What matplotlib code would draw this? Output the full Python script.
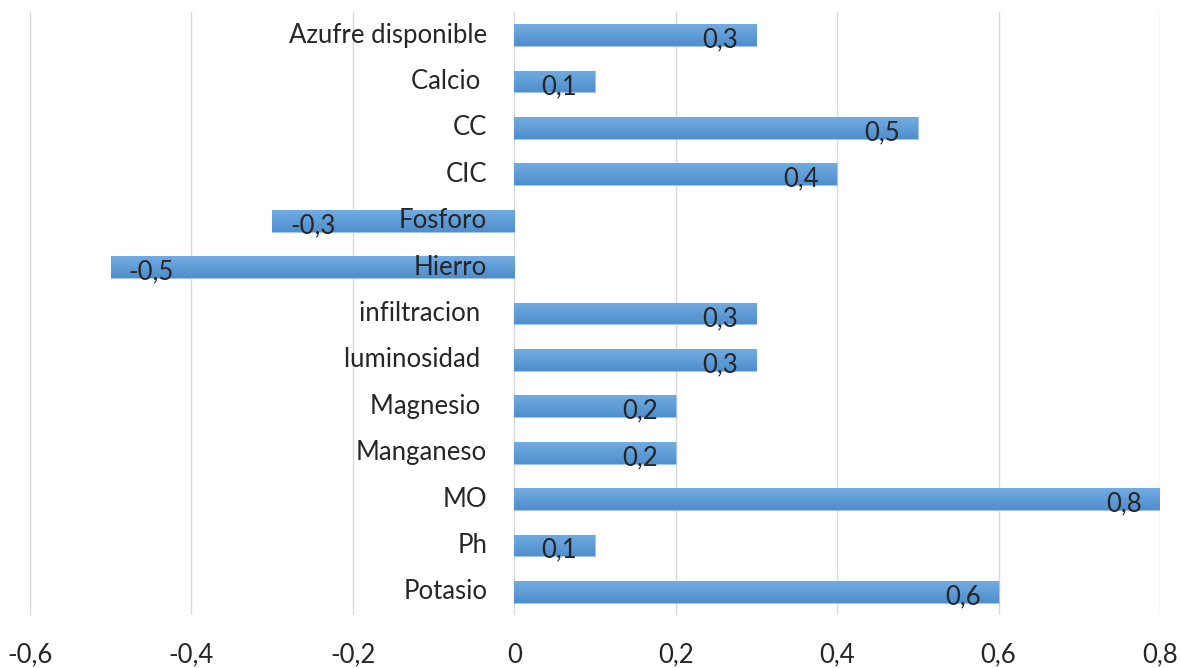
import matplotlib
matplotlib.use('Agg')
from matplotlib import pyplot as plt
from matplotlib.colors import LinearSegmentedColormap
import numpy as np

categories = ['Azufre disponible', 'Calcio ', 'CC', 'CIC', 'Fosforo', 'Hierro',
              'infiltracion ', 'luminosidad ', 'Magnesio ', 'Manganeso', 'MO', 'Ph', 'Potasio']
values = [0.3, 0.1, 0.5, 0.4, -0.3, -0.5, 0.3, 0.3, 0.2, 0.2, 0.8, 0.1, 0.6]
xticks = [-0.6, -0.4, -0.2, 0, 0.2, 0.4, 0.6, 0.8]

plt.rcParams['font.family'] = ['Lato', 'DejaVu Sans']


def comma(v):
    return ('%g' % v).replace('.', ',')


fig = plt.figure(figsize=(11.8, 6.68), dpi=100)
ax = fig.add_axes([30 / 1180, 1 - 615 / 668, 1130 / 1180, 603 / 668])

y = np.arange(len(categories))
bars = ax.barh(y, values, height=0.47, color='#5b9bd5', edgecolor='#a3c7ea', linewidth=0.8, zorder=2)

# light-to-dark gradient like the office chart
cmap = LinearSegmentedColormap.from_list('bar', ['#72abe0', '#4f8fce'])
grad = np.linspace(0, 1, 64).reshape(-1, 1)
for b in bars:
    x0, y0, w, h = b.get_x(), b.get_y(), b.get_width(), b.get_height()
    im = ax.imshow(grad, extent=(x0, x0 + w, y0 + h, y0), origin='upper', aspect='auto',
                   cmap=cmap, zorder=2.1)
    im.set_clip_path(b)

# category labels sit just left of zero
for yi, name in zip(y, categories):
    ax.annotate(name, (0, yi), xytext=(-19.5, 0), textcoords='offset points',
                ha='right', va='center', fontsize=18.5, color='#262626', zorder=3)

# value labels inside the bar end
for yi, v in zip(y, values):
    if v >= 0:
        ax.annotate(comma(v), (v, yi), xytext=(-13, -3.5), textcoords='offset points',
                    ha='right', va='center', fontsize=18.5, color='#262626', zorder=3)
    else:
        ax.annotate(comma(v), (v, yi), xytext=(13, -3.5), textcoords='offset points',
                    ha='left', va='center', fontsize=18.5, color='#262626', zorder=3)

ax.set_xlim(-0.6, 0.8)
ax.set_ylim(len(categories) - 0.5, -0.5)
ax.set_xticks(xticks)
ax.set_xticklabels([comma(t) for t in xticks], fontsize=18.5, color='#262626')
ax.set_yticks([])
ax.tick_params(axis='x', length=0, pad=20)
ax.grid(axis='x', color='#d9d9d9', linewidth=1, zorder=0)
for s in ax.spines.values():
    s.set_visible(False)

fig.savefig('out.png', dpi=100)
